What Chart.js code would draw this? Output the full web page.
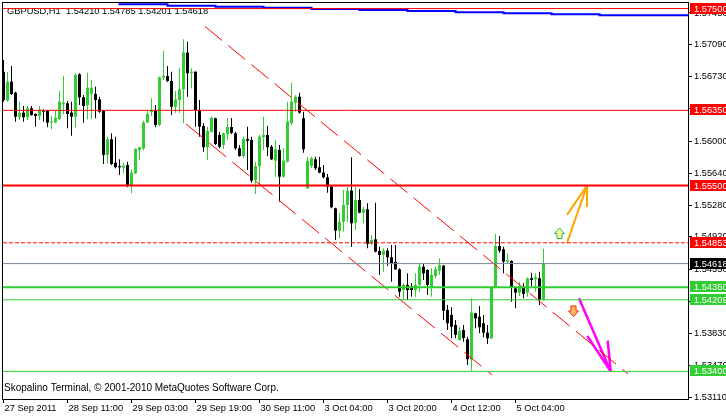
<!DOCTYPE html>
<html><head><meta charset="utf-8">
<script src="https://cdn.jsdelivr.net/npm/chart.js@4.4.1/dist/chart.umd.min.js"></script>
<style>html,body{margin:0;padding:0;background:#fff;overflow:hidden}canvas{display:block}</style>
</head><body>
<canvas id="c" width="726" height="416"></canvas>
<script>
// ---------- data ----------
const symbolText = 'GBPUSD,H1  1.54210 1.54785 1.54201 1.54618';
const footerText = 'Skopalino Terminal, \u00A9 2001-2010 MetaQuotes Software Corp.';
const timeTickBars = [1, 17, 33, 49, 65, 81, 97, 113, 129];
const timeTickLabels = ['27 Sep 2011', '28 Sep 11:00', '29 Sep 03:00', '29 Sep 19:00', '30 Sep 11:00', '3 Oct 04:00', '3 Oct 20:00', '4 Oct 12:00', '5 Oct 04:00'];
const priceTicks = [1.57450, 1.57090, 1.56730, 1.56370, 1.56000, 1.55640, 1.55280, 1.54920, 1.54550, 1.54190, 1.53830, 1.53470, 1.53110];

const opens = [1.56787,1.56459,1.56674,1.56550,1.56272,1.56324,1.56272,1.56373,1.56309,1.56286,
1.56346,1.56346,1.56211,1.56211,1.56252,1.56418,1.56430,1.56324,1.56278,1.56757,
1.56498,1.56411,1.56535,1.56535,1.56475,1.56343,1.55846,1.56023,1.55759,1.55721,
1.55702,1.55733,1.55499,1.55639,1.55902,1.55917,1.56215,1.56331,1.56346,1.56185,
1.56719,1.56738,1.56682,1.56391,1.56467,1.56588,1.57002,1.56769,1.56787,1.56354,
1.56173,1.55933,1.56109,1.56260,1.56072,1.55959,1.56083,1.56162,1.56091,1.55921,
1.55834,1.56026,1.56015,1.55563,1.55721,1.56046,1.56072,1.55939,1.55781,1.55902,
1.55600,1.55770,1.56204,1.56437,1.56504,1.56260,1.55469,1.55721,1.55797,1.55707,
1.55646,1.55594,1.55487,1.55243,1.54990,1.55092,1.55281,1.55442,1.55081,1.55337,
1.55194,1.55232,1.54848,1.54893,1.54761,1.54716,1.54764,1.54690,1.54636,1.54554,
1.54320,1.54377,1.54357,1.54320,1.54377,1.54583,1.54546,1.54339,1.54478,1.54538,
1.54595,1.54094,1.54038,1.53925,1.53755,1.53868,1.53763,1.53537,1.54057,1.54018,
1.53944,1.53838,1.53774,1.54357,1.54817,1.54780,1.54640,1.54648,1.54339,1.54290,
1.54357,1.54290,1.54452,1.54441,1.54452,1.54210];
const highs = [1.56919,1.56783,1.56851,1.56561,1.56448,1.56399,1.56399,1.56399,1.56317,1.56399,
1.56362,1.56354,1.56286,1.56354,1.56569,1.56738,1.56456,1.56448,1.56769,1.56769,
1.56524,1.56776,1.56693,1.56617,1.56504,1.56354,1.56052,1.56091,1.56052,1.55797,
1.55759,1.55770,1.55684,1.55921,1.55939,1.56233,1.56354,1.56486,1.56411,1.56730,
1.57024,1.56851,1.56787,1.56569,1.56829,1.57153,1.57126,1.56825,1.56790,1.56467,
1.56204,1.56165,1.56278,1.56267,1.56109,1.56100,1.56260,1.56264,1.56109,1.55959,
1.56052,1.56165,1.56052,1.55770,1.56072,1.56278,1.56173,1.55959,1.56015,1.55959,
1.55921,1.56448,1.56662,1.56524,1.56550,1.56335,1.55823,1.55826,1.55826,1.55826,
1.55733,1.55631,1.55507,1.55250,1.55187,1.55450,1.55487,1.55820,1.55487,1.55461,
1.55261,1.55300,1.54942,1.55307,1.54809,1.54791,1.54791,1.54829,1.54829,1.54565,
1.54396,1.54509,1.54396,1.54509,1.54622,1.54622,1.54554,1.54565,1.54583,1.54678,
1.54603,1.54151,1.54125,1.53981,1.53905,1.53925,1.53792,1.54226,1.54064,1.54139,
1.54038,1.53925,1.54365,1.54953,1.54930,1.54809,1.54735,1.54655,1.54357,1.54414,
1.54396,1.54460,1.54516,1.54509,1.54527,1.54785];
const lows = [1.56448,1.56448,1.56524,1.56222,1.56241,1.56222,1.56241,1.56290,1.56165,1.56241,
1.56222,1.56159,1.56136,1.56204,1.56241,1.56309,1.56147,1.56064,1.56159,1.56411,
1.56211,1.56249,1.56249,1.56260,1.56324,1.55744,1.55752,1.55733,1.55695,1.55620,
1.55639,1.55481,1.55413,1.55630,1.55789,1.55900,1.56204,1.56286,1.56159,1.56173,
1.56693,1.56670,1.56298,1.56320,1.56320,1.56204,1.56504,1.56599,1.56165,1.56052,
1.55883,1.55789,1.56100,1.55959,1.55921,1.55913,1.56015,1.56083,1.55902,1.55826,
1.55808,1.55676,1.55533,1.55405,1.55507,1.55902,1.55834,1.55790,1.55600,1.55318,
1.55590,1.55760,1.56185,1.56335,1.56315,1.55872,1.55460,1.55695,1.55676,1.55639,
1.55582,1.55420,1.55243,1.54885,1.54904,1.54979,1.55092,1.54809,1.54998,1.55187,
1.55074,1.54791,1.54829,1.54745,1.54490,1.54527,1.54591,1.54414,1.54546,1.54244,
1.54207,1.54207,1.54244,1.54244,1.54301,1.54433,1.54264,1.54244,1.54452,1.54490,
1.53981,1.53868,1.53774,1.53774,1.53747,1.53736,1.53473,1.53408,1.53887,1.53831,
1.53786,1.53710,1.53763,1.54339,1.54742,1.54509,1.54614,1.54188,1.54113,1.54252,
1.54226,1.54244,1.54365,1.54301,1.54151,1.54201];
const closes = [1.56467,1.56674,1.56535,1.56278,1.56324,1.56272,1.56373,1.56298,1.56286,1.56354,
1.56335,1.56211,1.56222,1.56267,1.56448,1.56437,1.56309,1.56278,1.56750,1.56498,
1.56399,1.56606,1.56606,1.56467,1.56335,1.55846,1.56023,1.55744,1.55707,1.55707,
1.55725,1.55499,1.55646,1.55913,1.55933,1.56215,1.56309,1.56354,1.56185,1.56724,
1.56742,1.56682,1.56391,1.56475,1.56588,1.57002,1.56769,1.56787,1.56354,1.56165,
1.55933,1.56117,1.56267,1.55970,1.55939,1.56091,1.56162,1.56094,1.55921,1.55834,
1.56026,1.56007,1.55555,1.55721,1.56052,1.56072,1.55933,1.55797,1.55910,1.55600,
1.55781,1.56222,1.56448,1.56504,1.56324,1.55910,1.55778,1.55808,1.55695,1.55646,
1.55594,1.55487,1.55255,1.54990,1.55092,1.55281,1.55442,1.55074,1.55337,1.55194,
1.55232,1.54840,1.54885,1.54753,1.54716,1.54764,1.54690,1.54622,1.54554,1.54301,
1.54377,1.54320,1.54320,1.54377,1.54583,1.54509,1.54377,1.54490,1.54554,1.54603,
1.54086,1.53944,1.53905,1.53812,1.53857,1.53778,1.53537,1.54064,1.54000,1.53899,
1.53838,1.53774,1.54357,1.54817,1.54764,1.54640,1.54659,1.54351,1.54290,1.54357,
1.54275,1.54452,1.54433,1.54464,1.54207,1.54618];

// horizontal levels (prices)
const levelPrices = [1.57500, 1.56350, 1.55500, 1.54853, 1.54618, 1.54350, 1.54209, 1.53400];
// stepped blue average: bar index where each step starts, and its value
const maBars = [30, 42, 54, 66, 78, 90, 102, 114, 126, 138, 150, 162, 173];
const maValues = [1.57560, 1.57548, 1.57533, 1.57521, 1.57510, 1.57495, 1.57484, 1.57473, 1.57458, 1.57447, 1.57435, 1.57424, 1.57424];
// trend channel: [bar, price] end points
const channelUpper = [[51.375, 1.57298], [157.125, 1.53371]];
const channelLower = [[46.625, 1.56196], [123.125, 1.53360]];
// drawn arrows: [bar1, price1, bar2, price2]
const orangeArrow = [[141.875, 1.54853, 146.875, 1.55500], [141.875, 1.55168, 146.875, 1.55500], [146.875, 1.55258, 146.875, 1.55500]];
const magentaArrow = [[144.875, 1.54226, 152.8, 1.53400], [146.95, 1.53800, 152.8, 1.53400], [152.05, 1.53747, 152.8, 1.53400]];
// signal markers: [bar, price]
const signalUp = [140, 1.54958];
const signalDown = [143.5, 1.54083];

// ---------- view / style ----------
const xMin = 0.875, xMax = 172.125;
const yMin = 1.53088, yMax = 1.57563;
const FONT_FAMILY = "'Liberation Sans', Arial, sans-serif";
const FONT_SIZE = 9.3;
const FOOTER_SIZE = 10;
const UP = '#32cd32', DOWN = '#000000';
const levelColors = ['#ff0000', '#ff0000', '#ff0000', '#ff0000', '#778899', '#32cd32', '#32cd32', '#32cd32'];
const levelWidths = [1, 1, 2, 1, 1, 2, 1, 1];
const levelDashes = [[], [], [], [4, 2], [], [], [], []];
const boxColors = ['#ff0000', '#ff0000', '#ff0000', '#ff0000', '#000000', '#32cd32', '#32cd32', '#32cd32'];

const barColors = opens.map((o, k) => closes[k] >= o ? UP : DOWN);
const barBase = { type: 'bar', grouped: false, inflateAmount: 0, borderWidth: 0, minBarLength: 1 };
const wickDs = Object.assign({}, barBase, {
  data: opens.map((o, k) => ({ x: k + 1, y: [lows[k], highs[k]] })),
  backgroundColor: barColors, barThickness: 1, order: 3
});
const bodyDs = Object.assign({}, barBase, {
  data: opens.map((o, k) => ({ x: k + 1, y: [Math.min(o, closes[k]), Math.max(o, closes[k])] })),
  backgroundColor: barColors, barThickness: 3, order: 2
});
function lineDs(points, color, width, dash, extra) {
  return Object.assign({
    type: 'line', data: points.map(p => ({ x: p[0], y: p[1] })),
    borderColor: color, borderWidth: width, borderDash: dash || [],
    pointRadius: 0, fill: false, tension: 0, order: 0
  }, extra || {});
}
const datasets = [wickDs, bodyDs];
levelPrices.forEach((p, k) => datasets.push(lineDs([[xMin, p], [xMax, p]], levelColors[k], levelWidths[k], levelDashes[k])));
datasets.push(lineDs(maBars.map((b, k) => [b, maValues[k]]), '#0000ff', 2, [], { stepped: 'after' }));
datasets.push(lineDs(channelUpper, '#ff0000', 1, [22, 8]));
datasets.push(lineDs(channelLower, '#ff0000', 1, [22, 8]));
orangeArrow.forEach(s => datasets.push(lineDs([[s[0], s[1]], [s[2], s[3]]], '#ffa500', 2)));
magentaArrow.forEach(s => datasets.push(lineDs([[s[0], s[1]], [s[2], s[3]]], '#ff00ff', 2.5)));

function drawArrowIcon(ctx, cx, cy, up, stroke, fill) {
  const d = up ? 1 : -1;
  ctx.beginPath();
  ctx.moveTo(cx, cy - 5.5 * d);
  ctx.lineTo(cx + 5, cy);
  ctx.lineTo(cx + 2.5, cy);
  ctx.lineTo(cx + 2.5, cy + 5 * d);
  ctx.lineTo(cx - 2.5, cy + 5 * d);
  ctx.lineTo(cx - 2.5, cy);
  ctx.lineTo(cx - 5, cy);
  ctx.closePath();
  ctx.fillStyle = fill; ctx.fill();
  ctx.lineWidth = 1; ctx.strokeStyle = stroke; ctx.stroke();
}

const mtPlugin = {
  id: 'mt',
  beforeDatasetsDraw(chart) {
    const ctx = chart.ctx;
    ctx.save();
    ctx.font = FONT_SIZE + 'px ' + FONT_FAMILY;
    ctx.fillStyle = '#000';
    ctx.textBaseline = 'alphabetic';
    ctx.fillText(symbolText, 7, 14);
    ctx.restore();
  },
  afterDraw(chart) {
    const ctx = chart.ctx, xs = chart.scales.x, ys = chart.scales.y, a = chart.chartArea;
    ctx.save();
    ctx.font = FOOTER_SIZE + 'px ' + FONT_FAMILY;
    ctx.fillStyle = '#000';
    ctx.textBaseline = 'alphabetic';
    ctx.fillText(footerText, 4, 390.5);
    // frame
    ctx.strokeStyle = '#000'; ctx.lineWidth = 1;
    ctx.strokeRect(2.5, 2.5, a.right - 2, a.bottom - 2);
    // signal markers
    drawArrowIcon(ctx, xs.getPixelForValue(signalUp[0]), ys.getPixelForValue(signalUp[1]), true, '#22bb66', '#ffff99');
    drawArrowIcon(ctx, xs.getPixelForValue(signalDown[0]), ys.getPixelForValue(signalDown[1]), false, '#ff2200', '#ffbb66');
    // price boxes on the axis
    ctx.font = FONT_SIZE + 'px ' + FONT_FAMILY;
    ctx.textBaseline = 'middle';
    levelPrices.forEach((p, k) => {
      const y = Math.round(ys.getPixelForValue(p));
      ctx.fillStyle = boxColors[k];
      ctx.fillRect(690, y - 6, 40, 11);
      ctx.fillStyle = '#fff';
      ctx.fillText(p.toFixed(5), 694, y);
    });
    ctx.restore();
  }
};

new Chart(document.getElementById('c').getContext('2d'), {
  type: 'bar',
  data: { datasets },
  options: {
    responsive: false, animation: false, devicePixelRatio: 1, events: [],
    layout: { padding: { top: 3, left: 3, right: 0, bottom: 0 } },
    plugins: { legend: { display: false }, tooltip: { enabled: false } },
    scales: {
      x: {
        type: 'linear', min: xMin, max: xMax, offset: false,
        grid: { display: true, drawOnChartArea: false, drawTicks: true, tickLength: 4, color: '#000', offset: false },
        border: { display: false },
        ticks: {
          autoSkip: false, maxRotation: 0, minRotation: 0, align: 'start', labelOffset: 1, padding: 0,
          color: '#000', font: { family: FONT_FAMILY, size: FONT_SIZE },
          callback: (v, i) => timeTickLabels[i]
        },
        afterBuildTicks: s => { s.ticks = timeTickBars.map(v => ({ value: v })); },
        afterFit: s => { s.height = 17; s.paddingLeft = 0; s.paddingRight = 0; }
      },
      y: {
        type: 'linear', position: 'right', min: yMin, max: yMax,
        grid: { display: true, drawOnChartArea: false, drawTicks: true, tickLength: 4, color: '#000' },
        border: { display: false },
        ticks: {
          autoSkip: false, padding: 2, color: '#000', font: { family: FONT_FAMILY, size: FONT_SIZE },
          callback: v => Number(v).toFixed(5)
        },
        afterBuildTicks: s => { s.ticks = priceTicks.map(v => ({ value: v })); },
        afterFit: s => { s.width = 38; s.paddingTop = 0; s.paddingBottom = 0; }
      }
    }
  },
  plugins: [mtPlugin]
});
</script>
</body></html>
